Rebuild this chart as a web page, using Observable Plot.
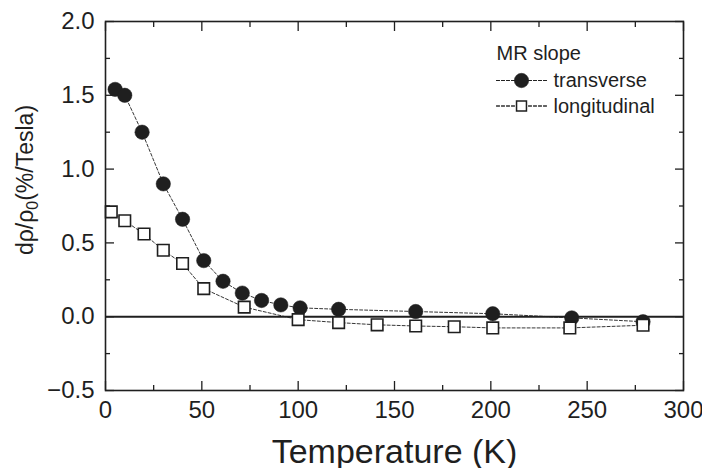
<!DOCTYPE html>
<html><head><meta charset="utf-8">
<script src="https://cdn.jsdelivr.net/npm/d3@7"></script>
<script src="https://cdn.jsdelivr.net/npm/@observablehq/plot@0.6"></script>
<style>body{margin:0;background:#fff;} svg{font-family:"Liberation Sans",Arial,sans-serif;}</style>
</head><body><div id="chart"></div>
<script>
// Data
const transverseT = [5, 10, 19, 30, 40, 51, 61, 71, 81, 91, 101, 121, 161, 201, 242, 279];
const transverseV = [1.54, 1.50, 1.25, 0.90, 0.66, 0.38, 0.24, 0.16, 0.11, 0.08, 0.06, 0.05, 0.035, 0.02, -0.008, -0.034];
const longitudinalT = [3, 10, 20, 30, 40, 51, 72, 100, 121, 141, 161, 181, 201, 241, 279];
const longitudinalV = [0.71, 0.65, 0.56, 0.45, 0.36, 0.19, 0.065, -0.02, -0.04, -0.055, -0.063, -0.068, -0.076, -0.076, -0.058];

const xMajor = [0, 50, 100, 150, 200, 250, 300];
const xMinor = [25, 75, 125, 175, 225, 275];
const yMajor = [-0.5, 0.0, 0.5, 1.0, 1.5, 2.0];
const yMinor = [-0.25, 0.25, 0.75, 1.25, 1.75];

const legendTitle = "MR slope";
const seriesNames = ["transverse", "longitudinal"];
const xTitle = "Temperature (K)";

const transverse = transverseT.map((t, i) => ({t, v: transverseV[i]}));
const longitudinal = longitudinalT.map((t, i) => ({t, v: longitudinalV[i]}));

const ink = "#1f1f1f";
const dash = "3,2";
const lineShape = {draw(ctx, l) { ctx.moveTo(0, 0); ctx.lineTo(0, -l); }};

function yTitleRender(index, scales, values, dims, context, next) {
  const g = next(index, scales, values, dims, context);
  d3.select(g).selectAll("text").each(function() {
    const t = d3.select(this);
    t.text(null);
    t.append("tspan").text("d\u03C1/\u03C1");
    t.append("tspan").attr("font-size", 16).attr("dy", 5).text("0");
    t.append("tspan").attr("dy", -5).text("(%/Tesla)");
  });
  return g;
}

const tickAxis = (k, anchor, ticks, size) =>
  (k === "x" ? Plot.axisX : Plot.axisY)({anchor, ticks, tickSize: -size, fill: "none", stroke: ink, strokeWidth: 1.3, label: null});

const chart = Plot.plot({
  width: 702,
  height: 468,
  marginLeft: 105,
  marginRight: 19,
  marginTop: 21,
  marginBottom: 78,
  style: {fontFamily: "Liberation Sans, Arial, sans-serif", color: ink, background: "#fff"},
  x: {domain: [0, 300]},
  y: {domain: [-0.5, 2.0]},
  marks: [
    // ticks pointing inward on all four sides
    tickAxis("x", "bottom", xMajor, 9), tickAxis("x", "bottom", xMinor, 5),
    tickAxis("x", "top", xMajor, 9), tickAxis("x", "top", xMinor, 5),
    tickAxis("y", "left", yMajor, 9), tickAxis("y", "left", yMinor, 5),
    tickAxis("y", "right", yMajor, 9), tickAxis("y", "right", yMinor, 5),
    // tick labels
    Plot.axisX({anchor: "bottom", ticks: xMajor, tickSize: 0, tickPadding: 10, fontSize: 24, fill: ink, label: null, tickFormat: d3.format("d")}),
    Plot.axisY({anchor: "left", ticks: yMajor, tickSize: 0, tickPadding: 11, fontSize: 24, fill: ink, label: null, tickFormat: d3.format(".1f")}),
    // axis titles
    Plot.text([xTitle], {frameAnchor: "bottom", dy: 72, lineAnchor: "bottom", textAnchor: "middle", fontSize: 34, fill: ink}),
    Plot.text(["y"], {frameAnchor: "left", dx: -73, dy: -26, rotate: -90, lineAnchor: "bottom", textAnchor: "middle", fontSize: 23, fill: ink, render: yTitleRender}),
    // zero line
    Plot.ruleY([0], {stroke: ink, strokeWidth: 2}),
    // dashed connecting lines
    Plot.line(transverse, {x: "t", y: "v", stroke: ink, strokeWidth: 0.9, strokeDasharray: dash}),
    Plot.line(longitudinal, {x: "t", y: "v", stroke: ink, strokeWidth: 0.9, strokeDasharray: dash}),
    // markers
    Plot.dot(transverse, {x: "t", y: "v", r: 7.2, fill: ink, stroke: ink, strokeWidth: 0.5}),
    Plot.dot(longitudinal, {x: "t", y: "v", symbol: "square", r: 6.5, fill: "white", stroke: ink, strokeWidth: 1.6}),
    // legend
    Plot.text([legendTitle], {frameAnchor: "top-left", dx: 391, dy: 38, lineAnchor: "bottom", textAnchor: "start", fontSize: 20, fill: ink}),
    Plot.vector([0, 1], {frameAnchor: "top-left", dx: 391, dy: 59, rotate: 90, length: 18, anchor: "start", shape: lineShape, stroke: ink, strokeWidth: 0.9, strokeDasharray: dash}),
    Plot.vector([0, 1], {frameAnchor: "top-left", dx: 423, dy: 59, rotate: 90, length: 19, anchor: "start", shape: lineShape, stroke: ink, strokeWidth: 0.9, strokeDasharray: dash}),
    Plot.vector([0, 1], {frameAnchor: "top-left", dx: 391, dy: 84.5, rotate: 90, length: 18, anchor: "start", shape: lineShape, stroke: ink, strokeWidth: 0.9, strokeDasharray: dash}),
    Plot.vector([0, 1], {frameAnchor: "top-left", dx: 423, dy: 84.5, rotate: 90, length: 19, anchor: "start", shape: lineShape, stroke: ink, strokeWidth: 0.9, strokeDasharray: dash}),
    Plot.dot([seriesNames[0]], {frameAnchor: "top-left", dx: 416, dy: 59, r: 7.2, fill: ink, stroke: ink, strokeWidth: 0.5}),
    Plot.dot([seriesNames[1]], {frameAnchor: "top-left", dx: 416, dy: 84.5, symbol: "square", r: 5.6, fill: "white", stroke: ink, strokeWidth: 1.5}),
    Plot.text([seriesNames[0]], {frameAnchor: "top-left", dx: 448, dy: 65, lineAnchor: "bottom", textAnchor: "start", fontSize: 20, fill: ink}),
    Plot.text([seriesNames[1]], {frameAnchor: "top-left", dx: 448, dy: 91.5, lineAnchor: "bottom", textAnchor: "start", fontSize: 20, fill: ink}),
    Plot.frame({stroke: ink, strokeWidth: 1.6})
  ]
});
document.getElementById("chart").appendChild(chart);
</script>
</body></html>
